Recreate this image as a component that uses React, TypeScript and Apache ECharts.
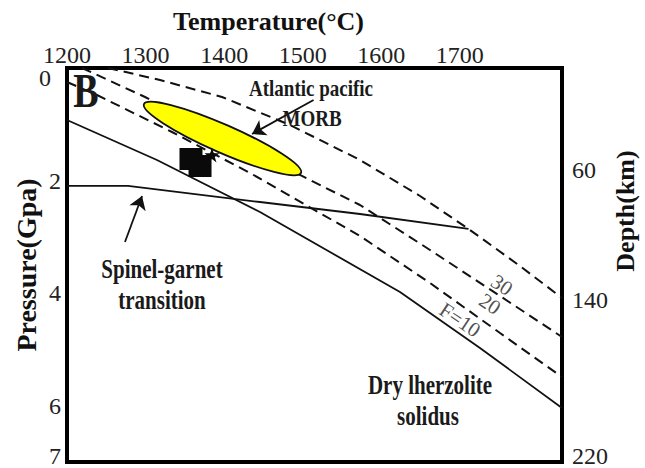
import React, { useEffect, useRef } from "react";
import * as echarts from "echarts";

// ---- tick labels ----
const temperatureTicks = [1200, 1300, 1400, 1500, 1600, 1700];
const pressureTicks = [0, 2, 4, 6, 7];
const depthKm = [60, 140, 220];
const depthAtPressure = [1.81, 4.12, 7.0];

// ---- curves (Temperature °C, Pressure GPa) ----
const solidusT = [1200, 1314.5, 1445.6, 1534.7, 1623.8, 1725.6, 1830];
const solidusP = [0.924, 1.634, 2.558, 3.269, 3.98, 4.975, 6.04];

const f30T = [1252.2, 1318.4, 1397.3, 1483.8, 1572.9, 1649.3, 1712.9, 1776.5, 1830];
const f30P = [0, 0.213, 0.515, 1.013, 1.634, 2.274, 2.878, 3.518, 4.086];

const f20T = [1219.1, 1299.3, 1432.9, 1572.9, 1662.0, 1751.1, 1830];
const f20P = [0, 0.515, 1.457, 2.434, 3.233, 4.051, 4.779];

const f10T = [1200, 1238.2, 1333.6, 1432.9, 1572.9, 1662.0, 1751.1, 1830];
const f10P = [0.249, 0.48, 1.137, 1.865, 2.985, 3.82, 4.708, 5.49];

const spinelT = [1200, 1277.6, 1445.6, 1572.9, 1711];
const spinelP = [2.096, 2.096, 2.381, 2.594, 2.86];

// MORB field: ellipse tips (T, P, T, P)
const morbTips = [1298.0, 0.64, 1497.8, 1.865];

// black sample symbols
const squareT = [1357.8, 1369.3];
const squareP = [1.617, 1.741];
const starT = [1384.5];
const starP = [1.546];

// melt fraction labels
const fLabelText = ["30", "20", "F=10"];
const fLabelT = [1753.6, 1738.4, 1700.2];
const fLabelP = [3.855, 4.193, 4.477];

// arrows
const arrowFromT = [1513.8, 1273.8];
const arrowFromP = [0.569, 3.091];
const arrowToT = [1435.5, 1295.5];
const arrowToP = [1.172, 2.274];

const zip = (a: number[], b: number[]) => a.map((v, i) => [v, b[i]]);

const SERIF = '"Liberation Serif", "Times New Roman", serif';

export default function App() {
  const ref = useRef<HTMLDivElement>(null);
  useEffect(() => {
    if (!ref.current) return;
    const chart = echarts.init(ref.current, null, { renderer: "svg" });
    const dashed = (name: string, t: number[], p: number[]) => ({
      name,
      type: "line",
      data: zip(t, p),
      showSymbol: false,
      symbol: "none",
      lineStyle: { color: "#111", width: 2, type: [10, 6] },
      z: 2,
    });
    const solid = (name: string, t: number[], p: number[]) => ({
      name,
      type: "line",
      data: zip(t, p),
      showSymbol: false,
      symbol: "none",
      lineStyle: { color: "#111", width: 1.8 },
      z: 2,
    });
    const boldText = (text: string, x: number, y: number, size: number) => ({
      type: "text",
      x,
      y,
      scaleY: 1.25,
      z: 10,
      style: {
        text,
        fill: "#1a1a1a",
        fontFamily: SERIF,
        fontWeight: "bold",
        fontSize: size,
        align: "center",
        verticalAlign: "middle",
      },
    });
    const labelRich = {
      top: { fontSize: 24, color: "#222", fontFamily: SERIF, padding: [20, 10, 0, 0] },
      bot: { fontSize: 24, color: "#222", fontFamily: SERIF, padding: [0, 0, 12, 0] },
    };
    chart.setOption({
      animation: false,
      backgroundColor: "#fff",
      textStyle: { fontFamily: SERIF },
      grid: {
        show: true,
        left: 67,
        right: 83,
        top: 68,
        bottom: 6,
        containLabel: false,
        outerBoundsMode: "none",
        borderColor: "#000",
        borderWidth: 4,
        backgroundColor: "transparent",
      },
      xAxis: {
        type: "value",
        position: "top",
        min: 1200,
        max: 1830,
        name: "Temperature(°C)",
        nameLocation: "middle",
        nameGap: 34,
        nameMoveOverlap: false,
        nameTextStyle: {
          fontFamily: SERIF,
          fontWeight: "bold",
          fontSize: 26,
          color: "#111",
          padding: [0, 92, 0, 0],
        },
        axisLine: { show: false },
        axisTick: { show: false },
        splitLine: { show: false },
        axisLabel: {
          customValues: temperatureTicks,
          formatter: (v: number) => String(v),
          fontSize: 24,
          color: "#222",
          margin: 1,
          fontFamily: SERIF,
        },
      },
      yAxis: [
        {
          type: "value",
          min: 0,
          max: 7,
          inverse: true,
          name: "Pressure(Gpa)",
          nameLocation: "middle",
          nameGap: 27,
          nameMoveOverlap: false,
          nameTextStyle: {
            fontFamily: SERIF,
            fontWeight: "bold",
            fontSize: 28,
            color: "#111",
          },
          axisLine: { show: false },
          axisTick: { show: false },
          splitLine: { show: false },
          axisLabel: {
            customValues: pressureTicks,
            formatter: (v: number) =>
              v === 0 ? "{top|0}" : v === 7 ? "{bot|7}" : String(v),
            rich: labelRich,
            fontSize: 24,
            color: "#222",
            margin: 6,
            fontFamily: SERIF,
          },
        },
        {
          type: "value",
          position: "right",
          min: 0,
          max: 7,
          inverse: true,
          name: "Depth(km)",
          nameLocation: "middle",
          nameGap: 50,
          nameMoveOverlap: false,
          nameTextStyle: {
            fontFamily: SERIF,
            fontWeight: "bold",
            fontSize: 26,
            color: "#111",
            padding: [0, 0, 0, 108],
          },
          axisLine: { show: false },
          axisTick: { show: false },
          splitLine: { show: false },
          axisLabel: {
            customValues: depthAtPressure,
            fontSize: 24,
            color: "#222",
            margin: 10,
            fontFamily: SERIF,
            rich: labelRich,
            formatter: (v: number) => {
              const i = depthAtPressure.findIndex((d) => Math.abs(d - v) < 0.01);
              if (i < 0) return "";
              return i === depthKm.length - 1 ? `{bot|${depthKm[i]}}` : String(depthKm[i]);
            },
          },
        },
      ],
      series: [
        dashed("F=30", f30T, f30P),
        dashed("F=20", f20T, f20P),
        dashed("F=10", f10T, f10P),
        solid("Dry lherzolite solidus", solidusT, solidusP),
        solid("Spinel-garnet transition", spinelT, spinelP),
        {
          name: "Atlantic pacific MORB",
          type: "custom",
          z: 5,
          encode: { x: [0, 2], y: [1, 3] },
          data: [morbTips],
          renderItem: (params: any, api: any) => {
            const a = api.coord([api.value(0), api.value(1)]);
            const b = api.coord([api.value(2), api.value(3)]);
            const cx = (a[0] + b[0]) / 2;
            const cy = (a[1] + b[1]) / 2;
            const rx = Math.hypot(b[0] - a[0], b[1] - a[1]) / 2;
            const ang = Math.atan2(b[1] - a[1], b[0] - a[0]);
            return {
              type: "ellipse",
              x: cx,
              y: cy,
              rotation: -ang,
              shape: { cx: 0, cy: 0, rx, ry: 14 },
              style: { fill: "#FFFF00", stroke: "#111", lineWidth: 1.8 },
            };
          },
        },
        {
          name: "samples",
          type: "scatter",
          z: 6,
          symbol: "rect",
          symbolSize: [23, 22],
          itemStyle: { color: "#0a0a0a", opacity: 1 },
          data: zip(squareT, squareP),
        },
        {
          name: "star",
          type: "scatter",
          z: 6,
          symbol:
            "path://M50,0 L61,35 L98,35 L68,57 L79,91 L50,70 L21,91 L32,57 L2,35 L39,35 Z",
          symbolSize: 15,
          itemStyle: { color: "#0a0a0a", opacity: 1 },
          data: zip(starT, starP),
        },
        {
          name: "arrows",
          type: "lines",
          coordinateSystem: "cartesian2d",
          z: 6,
          symbol: ["none", "arrow"],
          symbolSize: 13,
          lineStyle: { color: "#111", width: 1.8, opacity: 1 },
          data: arrowFromT.map((t, i) => ({
            coords: [
              [t, arrowFromP[i]],
              [arrowToT[i], arrowToP[i]],
            ],
          })),
        },
        {
          name: "melt fraction",
          type: "scatter",
          z: 7,
          symbolSize: 0,
          data: fLabelT.map((t, i) => [t, fLabelP[i], fLabelText[i]]),
          label: {
            show: true,
            position: "inside",
            formatter: (p: any) => p.data[2],
            rotate: -34,
            fontFamily: SERIF,
            fontSize: 21,
            color: "#222",
          },
        },
      ],
      graphic: [
        boldText("B", 86, 91, 38),
        boldText("Atlantic pacific", 311, 88, 19),
        boldText("MORB", 312, 118, 19),
        boldText("Spinel-garnet", 162, 269, 21),
        boldText("transition", 162, 300, 21),
        boldText("Dry lherzolite", 430, 385, 21),
        boldText("solidus", 428, 416, 21),
      ],
    });
    return () => chart.dispose();
  }, []);
  return (
    <div
      ref={ref}
      style={{ position: "fixed", left: 0, top: 0, width: 645, height: 468 }}
    />
  );
}
